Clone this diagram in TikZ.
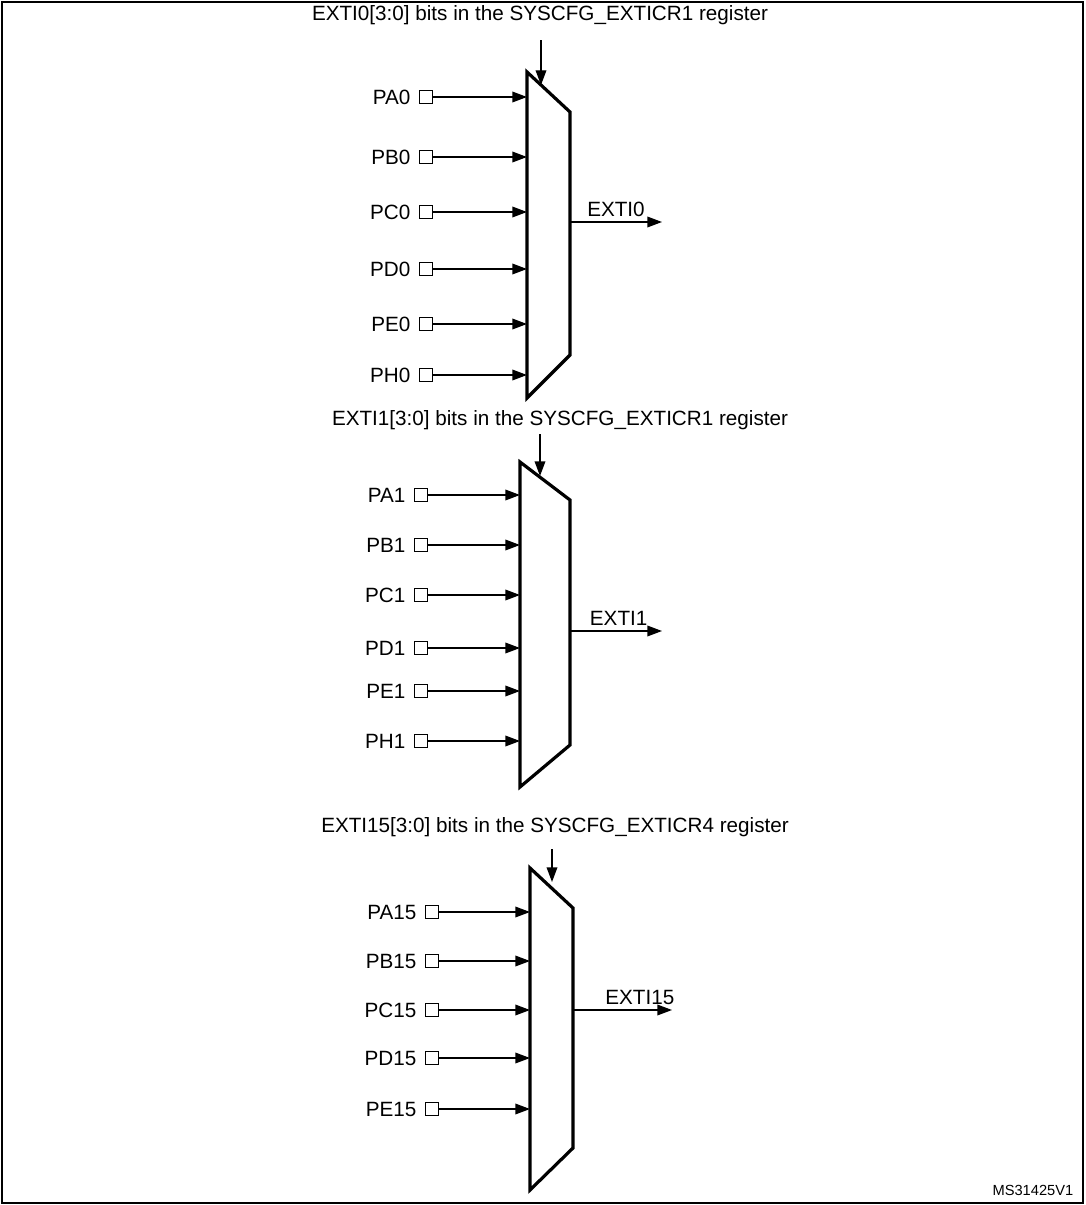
\documentclass[tikz,border=0pt]{standalone}
\usepackage{fontspec}
\setmainfont{Liberation Sans}
\usetikzlibrary{arrows.meta, positioning}

\begin{document}
\begin{tikzpicture}[
    x=0.75pt, y=-0.75pt,
    font=\fontsize{15.5}{18}\selectfont,
    mux/.style={line width=2.4pt, line join=miter},
    pin/.style={draw, line width=0.9pt, minimum size=9.5pt, inner sep=0pt},
    arrow/.style={-{Triangle[length=11pt,width=8pt]}, line width=1pt}
]
    \useasboundingbox (0,0) rectangle (1085,1205);
    \draw[line width=0.8pt] (2,2) rectangle (1083,1203);

    % mux 1
    \draw[mux] (527,72) -- (570,112) -- (570,355) -- (527,398) -- cycle;
    \node (t0) at (540,15) {EXTI0[3:0] bits in the SYSCFG\_EXTICR1 register};
    \coordinate (s0) at (541,85);
    \draw[arrow] (t0.south -| s0) ++(0,-8pt) -- (s0);
    \foreach \n/\y in {PA0/97, PB0/157, PC0/212, PD0/269, PE0/324, PH0/375} {
        \node[pin] (p\n) at (426,\y) {};
        \node[left=3pt of p\n] {\n};
        \coordinate (i\n) at (527,\y);
        \draw[arrow] (p\n) -- (i\n);
    }
    \coordinate (o0) at (570,222);
    \coordinate (e0) at (662,222);
    \draw[arrow] (o0) -- node[above, xshift=0pt] {EXTI0} (e0);

    % mux 2
    \draw[mux] (520,462) -- (570,500) -- (570,745) -- (520,787) -- cycle;
    \node (t1) at (560,420) {EXTI1[3:0] bits in the SYSCFG\_EXTICR1 register};
    \coordinate (s1) at (540,476);
    \draw[arrow] (t1.south -| s1) -- (s1);
    \foreach \n/\y in {PA1/495, PB1/545, PC1/595, PD1/648, PE1/691, PH1/741} {
        \node[pin] (p\n) at (421,\y) {};
        \node[left=3pt of p\n] {\n};
        \coordinate (i\n) at (520,\y);
        \draw[arrow] (p\n) -- (i\n);
    }
    \coordinate (o1) at (570,631);
    \coordinate (e1) at (662,631);
    \draw[arrow] (o1) -- node[above, xshift=2pt] {EXTI1} (e1);

    % mux 15
    \draw[mux] (530,868) -- (573,908) -- (573,1148) -- (530,1190) -- cycle;
    \node (t15) at (555,827) {EXTI15[3:0] bits in the SYSCFG\_EXTICR4 register};
    \coordinate (s15) at (552,882);
    \draw[arrow] (t15.south -| s15) ++(0,-6pt) -- (s15);
    \foreach \n/\y in {PA15/912, PB15/961, PC15/1010, PD15/1058, PE15/1109} {
        \node[pin] (p\n) at (432,\y) {};
        \node[left=3pt of p\n] {\n};
        \coordinate (i\n) at (530,\y);
        \draw[arrow] (p\n) -- (i\n);
    }
    \coordinate (o15) at (573,1010);
    \coordinate (e15) at (672,1010);
    \draw[arrow] (o15) -- node[above, xshift=13pt] {EXTI15} (e15);

    \node[font=\fontsize{11}{13}\selectfont, anchor=east] (id) at (1078,1190) {MS31425V1};
\end{tikzpicture}
\end{document}
